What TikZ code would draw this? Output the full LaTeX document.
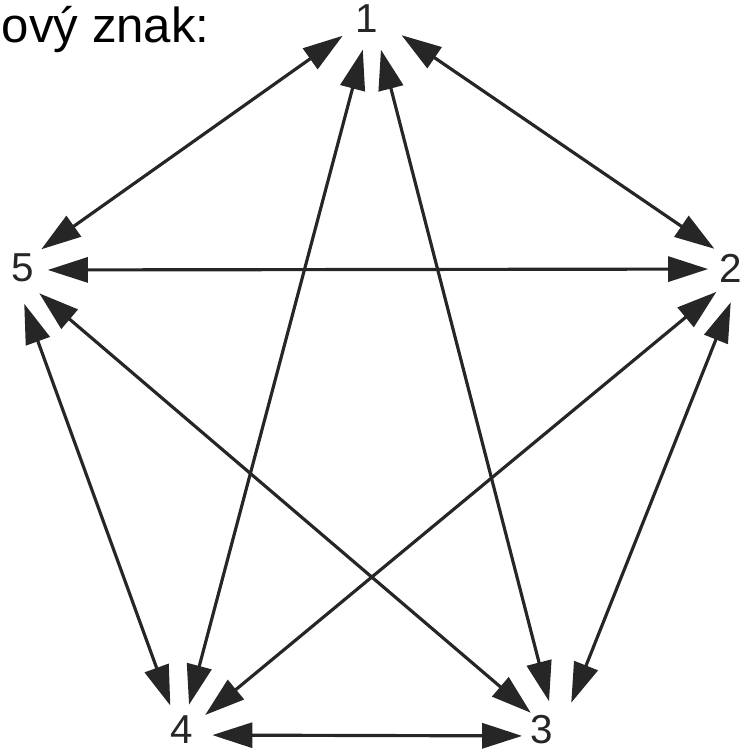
\documentclass[tikz,border=0pt]{standalone}
\usepackage{fontspec}
\setmainfont{Liberation Sans}
\usepackage{xcolor}
\usepackage{tikz}
\usetikzlibrary{arrows.meta,positioning}
\definecolor{ink}{RGB}{38,38,38}
\tikzset{
  vertex/.style={circle,minimum size=1.42cm,inner sep=0pt},
  num/.style={font=\fontsize{23}{27}\selectfont,text=ink,inner sep=0pt},
  caption/.style={font=\fontsize{28}{32}\selectfont,inner sep=0pt},
  link/.style={{Triangle[length=0.8cm,width=0.5cm]}-{Triangle[length=0.8cm,width=0.5cm]},
              line width=1.8pt,draw=ink},
}

\begin{document}
\begin{tikzpicture}[x=0.02cm,y=-0.02cm]
  \useasboundingbox (0,0) rectangle (742,752);
  \node[caption,anchor=base east] (title) at (210,42) {ový znak:};
  % digits
  \node[num] (n1) at (367,19) {1};
  \node[num] (n2) at (731,268) {2};
  \node[num] (n3) at (542,730) {3};
  \node[num] (n4) at (182,730) {4};
  \node[num] (n5) at (23,268) {5};
  % points where the arrows meet
  \node[vertex] (v1) at (372,15) {};
  \node[vertex] (v2) at (744,269) {};
  \node[vertex] (v3) at (558,736) {};
  \node[vertex,minimum size=1.24cm] (v4) at (181,735) {};
  \node[vertex] (v5) at (12,270) {};
  \draw[link] (v1) -- (v2);
  \draw[link] (v1) -- (v3);
  \draw[link] (v1) -- (v4);
  \draw[link] (v1) -- (v5);
  \draw[link] (v5) -- (v2);
  \draw[link] (v5) -- (v3);
  \draw[link] (v5) -- (v4);
  \draw[link] (v2) -- (v3);
  \draw[link] (v2) -- (v4);
  \draw[link] (v4) -- (v3);
\end{tikzpicture}
\end{document}
